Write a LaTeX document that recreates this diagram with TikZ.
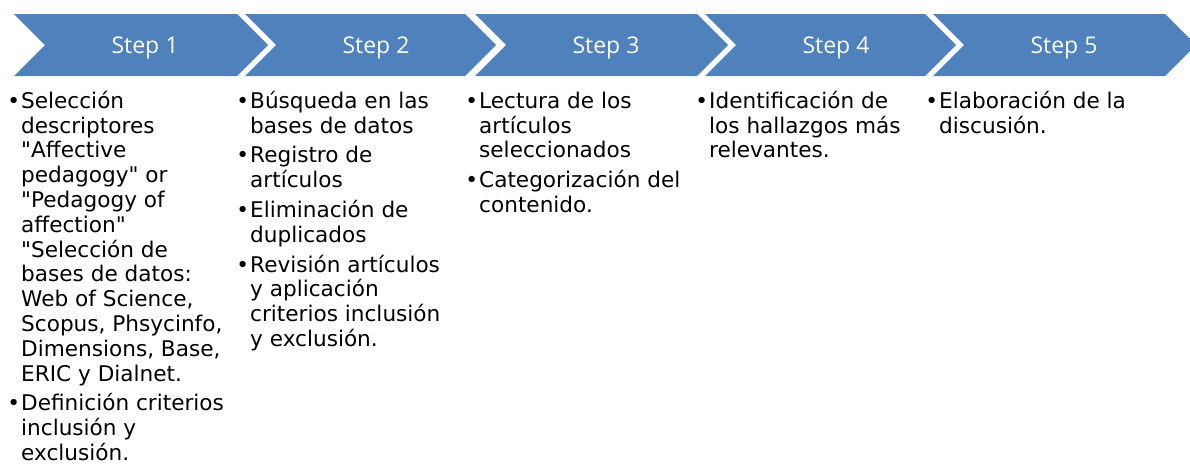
\documentclass[tikz,border=0pt]{standalone}
\usepackage{fontspec}
\setmainfont{DejaVu Sans}[Ligatures=TeXOff]
\newfontfamily\hdrfont{Open Sans}
\definecolor{chev}{RGB}{79,129,189}
\newcommand{\bul}{\llap{•\hspace{1pt}}}
\begin{document}
\begin{tikzpicture}[x=1pt,y=-1pt,
  chevron/.style={fill=chev, draw=none},
  steplabel/.style={font={\hdrfont\fontsize{23}{26}\selectfont}, text=white, anchor=base, inner sep=0pt},
  itemtext/.style={font={\fontsize{21.6}{24.8}\selectfont}, align=left, anchor=north west, inner sep=0pt, text=black}]
\useasboundingbox (0,0) rectangle (1190,464);
\foreach \l/\r/\n in {14/237/1, 245/465/2, 475/697/3, 705/925/4, 933/1165/5} {
  \fill[chevron] (\l,14) -- (\r,14) -- (\r+31,45) -- (\r,76) -- (\l,76) -- (\l+31,45) -- cycle;
  \node[steplabel] (s\n) at (\l+131,53) {Step \n};
}
\node[itemtext] (t1) at (21,90.64) {\strut\bul Selección\\ descriptores\\ "Affective\\ pedagogy" or\\ "Pedagogy of\\ affection"\\ "Selección de\\ bases de datos:\\ Web of Science,\\ Scopus, Phsycinfo,\\ Dimensions, Base,\\ ERIC y Dialnet.\\[5pt] \bul Definición criterios\\ inclusión y\\ exclusión.};
\node[itemtext] (t2) at (250,90.64) {\strut\bul Búsqueda en las\\ bases de datos\\[5pt] \bul Registro de\\ artículos\\[5pt] \bul Eliminación de\\ duplicados\\[5pt] \bul Revisión artículos\\ y aplicación\\ criterios inclusión\\ y exclusión.};
\node[itemtext] (t3) at (479,90.64) {\strut\bul Lectura de los\\ artículos\\ seleccionados\\[5pt] \bul Categorización del\\ contenido.};
\node[itemtext] (t4) at (709,90.64) {\strut\bul Identificación de\\ los hallazgos más\\ relevantes.};
\node[itemtext] (t5) at (939,90.64) {\strut\bul Elaboración de la\\ discusión.};
\end{tikzpicture}
\end{document}
